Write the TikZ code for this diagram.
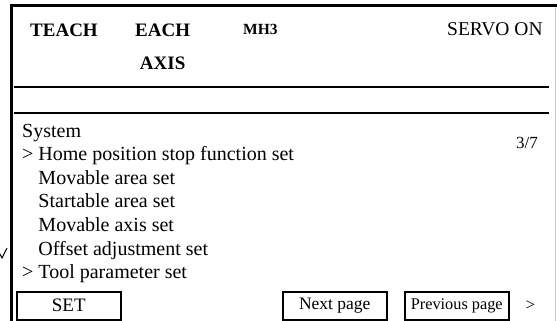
\documentclass[tikz,border=0pt]{standalone}
\usepackage{fontspec}
\setmainfont{Liberation Serif}
\usetikzlibrary{positioning}
\tikzset{
	txt/.style={inner sep=0pt,anchor=base west,font=\fontsize{20}{24}\selectfont},
	hdr/.style={inner sep=0pt,anchor=base west,font=\fontsize{19}{23}\selectfont\bfseries},
	btn/.style={draw,line width=1.5pt,inner sep=0pt,minimum width=104pt,minimum height=28pt,anchor=north west,font=\fontsize{19}{23}\selectfont},
	rule/.style={line width=2pt}
}
\begin{document}
\begin{tikzpicture}[x=1pt,y=-1pt]
		\useasboundingbox (0,0) rectangle (557,321);
		\draw[line width=2.5pt] (11.5,321) -- (11.5,5.5) -- (557,5.5);
		\draw[black!20,line width=1pt] (555,7) -- (555,321);
		\draw[line width=1pt] (0,254) -- (2,258) -- (7,248);
		% header
		\node(teach) [hdr] at (30,36.5) {TEACH};
		\node(each) [hdr] at (135,36.5) {EACH};
		\node(axis) [hdr,below=33.5pt of each.base,anchor=base] {AXIS};
		\node(mh) [hdr,font=\fontsize{15.5}{18}\selectfont\bfseries] at (243,35) {MH3};
		\node(servo) [txt,font=\fontsize{19.5}{23}\selectfont] at (447,36) {SERVO ON};
		\draw[rule] (14,87) -- (549,87);
		\draw[rule] (14,113) -- (549,113);
		% menu
		\node(m0) [txt] at (22,137) {System};
		\node(m1) [below=23.6pt of m0.base west,txt] {> Home position stop function set};
		\node(m2) [below=23.6pt of m1.base west,txt] {\phantom{> }Movable area set};
		\node(m3) [below=23.6pt of m2.base west,txt] {\phantom{> }Startable area set};
		\node(m4) [below=23.6pt of m3.base west,txt] {\phantom{> }Movable axis set};
		\node(m5) [below=23.6pt of m4.base west,txt] {\phantom{> }Offset adjustment set};
		\node(m6) [below=23.6pt of m5.base west,txt] {> Tool parameter set};
		\node(pg) [txt,font=\fontsize{17}{20}\selectfont] at (516,148) {3/7};
		% buttons
		\node(set) [btn] at (16,291) {SET};
		\node(next) [btn,font=\fontsize{17.5}{21}\selectfont] at (282,291) {Next page};
		\node(prev) [btn,font=\fontsize{16.3}{20}\selectfont] at (404,291) {Previous page};
		\node(more) [right=16pt of prev.east,anchor=west,inner sep=0pt,font=\fontsize{17}{20}\selectfont] {>};
	\end{tikzpicture}
\end{document}
